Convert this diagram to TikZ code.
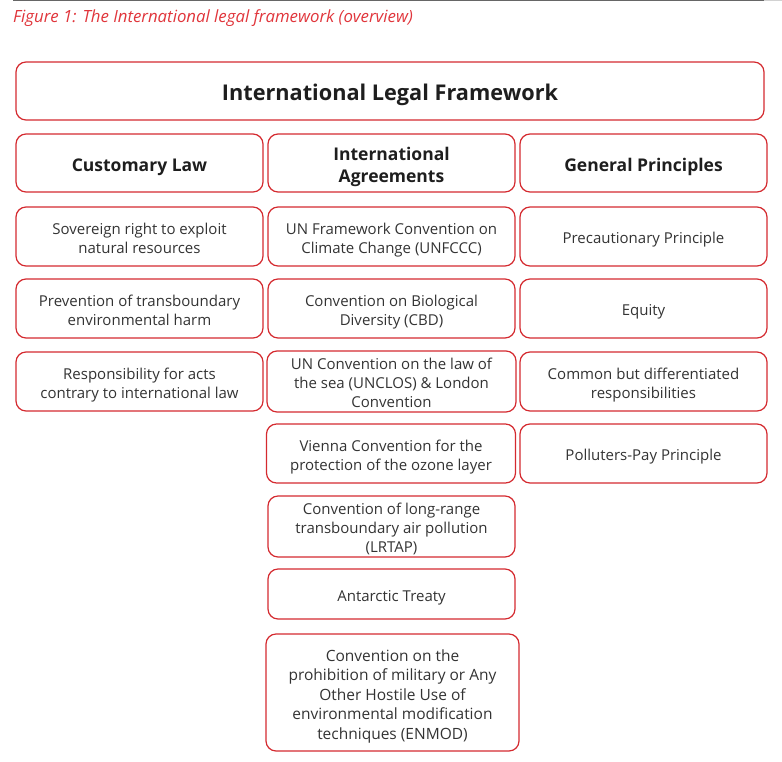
\documentclass[tikz,border=0pt]{standalone}
\usepackage{fontspec}
\setmainfont{Open Sans}
\definecolor{boxred}{HTML}{D42A2F}
\definecolor{capred}{HTML}{E0353B}
\definecolor{txt}{HTML}{333333}
\definecolor{hdr}{HTML}{1E1E1E}
\newcommand\lowtx[2]{\raisebox{#1}[\height][\depth]{\begin{tabular}{@{}c@{}}#2\end{tabular}}}
\begin{document}
\begin{tikzpicture}[x=1pt,y=-1pt,
  box/.style={draw=boxred,line width=1.2pt,rounded corners=10pt,align=center,inner sep=2pt,
    text=txt,font=\fontsize{15}{19}\selectfont},
  hbox/.style={box,text=hdr,font=\fontsize{17.5}{21.5}\selectfont\bfseries},
  tbox/.style={box,text=hdr,font=\fontsize{21.7}{24}\selectfont\bfseries}]
\useasboundingbox (0,0) rectangle (782,761);
\draw[gray!80!black,line width=1.2pt] (13,0.6) -- (764,0.6);
\draw[gray!35,line width=1.2pt] (764,0.6) -- (782,0.6);
\node[anchor=base west,text=capred,inner sep=0pt,font=\fontsize{16.8}{20}\selectfont\itshape] (cap) at (13,22) {Figure 1: The International legal framework (overview)};
\node[tbox,minimum width=748pt,minimum height=58pt] (main) at (390,91) {\lowtx{-5pt}{International Legal Framework}};
\node[hbox,minimum width=247pt,minimum height=58pt] (h1) at (139.5,163) {\lowtx{-4pt}{Customary Law}};
\node[hbox,minimum width=247pt,minimum height=58pt] (h2) at (391.5,163) {\lowtx{-4pt}{International\\Agreements}};
\node[hbox,minimum width=247pt,minimum height=58pt] (h3) at (643.5,163) {\lowtx{-4pt}{General Principles}};
% column 1
\node[box,minimum width=247pt,minimum height=59pt] (a1) at (139.5,236.5) {\lowtx{-3.5pt}{Sovereign right to exploit\\natural resources}};
\node[box,minimum width=247pt,minimum height=59pt] (a2) at (139.5,308.5) {\lowtx{-3.5pt}{Prevention of transboundary\\environmental harm}};
\node[box,minimum width=247pt,minimum height=59pt] (a3) at (139.5,381.5) {\lowtx{-3.5pt}{Responsibility for acts\\contrary to international law}};
% column 2
\node[box,minimum width=247pt,minimum height=59pt] (b1) at (391.5,236.5) {\lowtx{-3.5pt}{UN Framework Convention on\\Climate Change (UNFCCC)}};
\node[box,minimum width=247pt,minimum height=59pt] (b2) at (391.5,308.5) {\lowtx{-3.5pt}{Convention on Biological\\Diversity (CBD)}};
\node[box,minimum width=249pt,minimum height=59pt] (b3) at (391.5,381.5) {\lowtx{-3pt}{UN Convention on the law of\\the sea (UNCLOS) \& London\\Convention}};
\node[box,minimum width=249pt,minimum height=59pt] (b4) at (391,453.5) {\lowtx{-3.5pt}{Vienna Convention for the\\protection of the ozone layer}};
\node[box,minimum width=247pt,minimum height=59pt] (b5) at (391.5,526.5) {\lowtx{-3pt}{Convention of long-range\\transboundary air pollution\\(LRTAP)}};
\node[box,minimum width=247pt,minimum height=50pt] (b6) at (391.5,594) {\lowtx{-3.5pt}{Antarctic Treaty}};
\node[box,minimum width=253pt,minimum height=117pt,font=\fontsize{15.5}{19.5}\selectfont] (b7) at (392.5,692.5) {\lowtx{-4pt}{Convention on the\\prohibition of military or Any\\Other Hostile Use of\\environmental modification\\techniques (ENMOD)}};
% column 3
\node[box,minimum width=247pt,minimum height=59pt] (c1) at (643.5,236.5) {\lowtx{-3.5pt}{Precautionary Principle}};
\node[box,minimum width=247pt,minimum height=59pt] (c2) at (643.5,308.5) {\lowtx{-3.5pt}{Equity}};
\node[box,minimum width=247pt,minimum height=59pt] (c3) at (643.5,381.5) {\lowtx{-3.5pt}{Common but differentiated\\responsibilities}};
\node[box,minimum width=247pt,minimum height=59pt] (c4) at (643.5,453.5) {\lowtx{-3.5pt}{Polluters-Pay Principle}};
\end{tikzpicture}
\end{document}
